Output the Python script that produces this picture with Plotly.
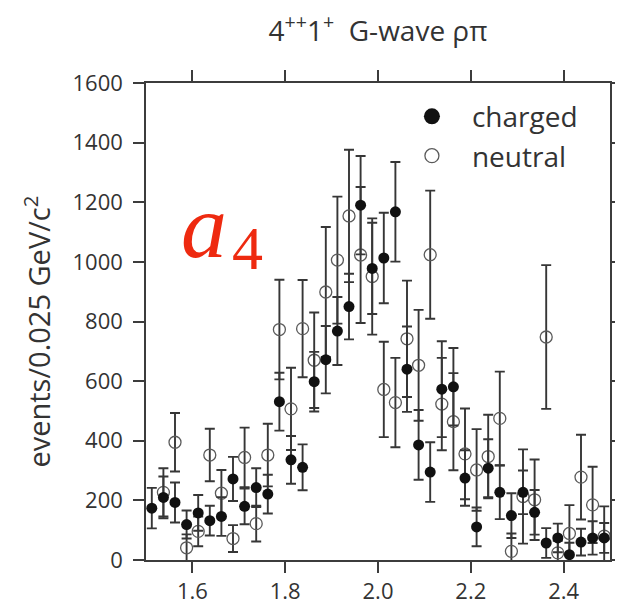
import plotly.graph_objects as go

# bin centers (GeV/c^2)
mass = [1.5125, 1.5375, 1.5625, 1.5875, 1.6125, 1.6375, 1.6625, 1.6875, 1.7125, 1.7375,
        1.7625, 1.7875, 1.8125, 1.8375, 1.8625, 1.8875, 1.9125, 1.9375, 1.9625, 1.9875,
        2.0125, 2.0375, 2.0625, 2.0875, 2.1125, 2.1375, 2.1625, 2.1875, 2.2125, 2.2375,
        2.2625, 2.2875, 2.3125, 2.3375, 2.3625, 2.3875, 2.4125, 2.4375, 2.4625, 2.4875]

charged = [174, 210, 193, 119, 158, 132, 146, 272, 180, 243,
           221, 531, 336, 311, 598, 672, 768, 850, 1190, 978,
           1013, 1168, 640, 386, 295, 573, 581, 275, 111, 308,
           227, 149, 227, 160, 57, 74, 18, 60, 74, 74]
charged_err = [68, 70, 67, 47, 60, 50, 65, 74, 60, 65,
               65, 97, 80, 77, 100, 113, 114, 110, 165, 153,
               152, 167, 143, 117, 100, 161, 130, 93, 65, 97,
               90, 75, 73, 75, 50, 48, 40, 45, 56, 50]

neutral = [None, 227, 395, 41, 96, 352, 224, 72, 344, 122,
           352, 773, 507, 776, 670, 899, 1006, 1154, 1023, 951,
           572, 528, 742, 653, 1024, 523, 464, 356, 302, 347,
           475, 29, 213, 202, 748, 24, 89, 278, 185, 80]
neutral_err = [None, 81, 98, 45, 50, 88, 78, 45, 100, 60,
               105, 167, 138, 163, 160, 218, 213, 222, 228, 195,
               160, 150, 195, 186, 215, 155, 163, 152, 137, 140,
               157, 60, 158, 135, 241, 40, 95, 142, 128, 100]

x_ticks = [1.6, 1.8, 2.0, 2.2, 2.4]
x_ticklabels = ["1.6", "1.8", "2.0", "2.2", "2.4"]
y_ticks = [0, 200, 400, 600, 800, 1000, 1200, 1400, 1600]

axis_col = "#3c3c3c"
text_col = "#333333"
err_col = "#363636"
red = "#ee2a10"

# the page adds an 8px body margin, so the figure is 8px smaller than the window
W, H = 615, 599

fig = go.Figure()

fig.add_trace(go.Scatter(
    x=mass, y=neutral, mode="markers", showlegend=False,
    marker=dict(symbol="circle-open", size=12, color="#5a5a5a", line=dict(width=1.3)),
    error_y=dict(type="data", array=neutral_err, visible=True,
                 color=err_col, thickness=1.9, width=5),
))
fig.add_trace(go.Scatter(
    x=mass, y=charged, mode="markers", showlegend=False,
    marker=dict(symbol="circle", size=11, color="#111111"),
    error_y=dict(type="data", array=charged_err, visible=True,
                 color=err_col, thickness=1.9, width=5),
))

# legend entries
fig.add_trace(go.Scatter(
    x=[None], y=[None], mode="markers", name="charged",
    marker=dict(symbol="circle", size=16, color="#111111"),
))
fig.add_trace(go.Scatter(
    x=[None], y=[None], mode="markers", name="neutral",
    marker=dict(symbol="circle-open", size=14, color="#5a5a5a", line=dict(width=1.3)),
))

# a_4 label
fig.add_annotation(
    x=1.625, y=1122, xref="x", yref="y",
    text="<i>a</i>", showarrow=False,
    font=dict(family="Liberation Serif", size=92, color=red),
    xanchor="center", yanchor="middle",
)
fig.add_annotation(
    x=1.7177, y=1045, xref="x", yref="y",
    text="4", showarrow=False,
    font=dict(family="Liberation Serif", size=62, color=red),
    xanchor="center", yanchor="middle",
)

# y-axis title
fig.add_annotation(
    x=-0.2358, y=0.478, xref="paper", yref="paper",
    text="events/0.025 GeV/c<sup>2</sup>", showarrow=False, textangle=-90,
    font=dict(family="Open Sans", size=29, color=text_col),
    xanchor="center", yanchor="middle",
)

fig.update_layout(
    width=W, height=H,
    margin=dict(l=138, r=13, t=75, b=47),
    paper_bgcolor="white", plot_bgcolor="white",
    font=dict(family="Open Sans", size=20, color=text_col),
    title=dict(text="4<sup>++</sup>1<sup>+</sup>&nbsp;&nbsp;G-wave ρπ", x=370 / W,
               xanchor="center", y=1 - 23 / H, yanchor="middle",
               font=dict(family="Open Sans", size=28, color=text_col)),
    showlegend=True,
    legend=dict(x=0.53, y=0.982, xanchor="left", yanchor="top",
                font=dict(family="Open Sans", size=28, color=text_col),
                bgcolor="rgba(0,0,0,0)", itemwidth=70, tracegroupgap=0),
)

fig.update_xaxes(
    range=[1.5, 2.5], tickvals=x_ticks, ticktext=x_ticklabels, automargin=False,
    showgrid=False, zeroline=False, showline=True, linecolor=axis_col, linewidth=1.5,
    mirror="allticks", ticks="outside", ticklen=11, tickwidth=1.5, tickcolor=axis_col,
    tickfont=dict(family="Open Sans", size=22, color=text_col),
)
fig.update_yaxes(
    range=[0, 1600], tickvals=y_ticks, automargin=False, ticklabelstandoff=6,
    showgrid=False, zeroline=False, showline=True, linecolor=axis_col, linewidth=1.5,
    mirror="allticks", ticks="outside", ticklen=11, tickwidth=1.5, tickcolor=axis_col,
    tickfont=dict(family="Open Sans", size=22, color=text_col),
)

fig.write_html("out.html")
